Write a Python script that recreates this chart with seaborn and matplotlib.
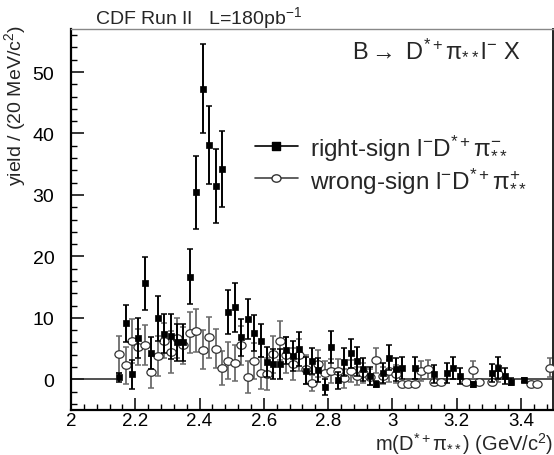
import numpy as np
import pandas as pd
import matplotlib
matplotlib.use("Agg")
import matplotlib.pyplot as plt
import seaborn as sns
from matplotlib.path import Path
from matplotlib.lines import Line2D

# Right-sign l- D*+ pi-_** candidates: bin centre (GeV/c^2), yield, uncertainty
rs_mass = [2.15, 2.17, 2.19, 2.21, 2.23, 2.25, 2.27, 2.29, 2.31, 2.33, 2.35, 2.37,
           2.39, 2.41, 2.43, 2.45, 2.47, 2.49, 2.51, 2.53, 2.55, 2.57, 2.59, 2.61,
           2.63, 2.65, 2.67, 2.69, 2.71, 2.73, 2.75, 2.77, 2.79, 2.81, 2.83, 2.85,
           2.87, 2.89, 2.91, 2.93, 2.95, 2.97, 2.99, 3.01, 3.03, 3.07, 3.13, 3.17,
           3.19, 3.21, 3.25, 3.31, 3.33, 3.35, 3.37, 3.41]
rs_yield = [0.3, 9.1, 0.8, 6.7, 15.6, 4.3, 9.9, 7.4, 7.0, 6.0, 6.0, 16.7,
            30.4, 47.3, 38.1, 31.4, 34.2, 10.9, 11.7, 6.8, 9.8, 7.5, 6.3, 2.8,
            2.5, 2.5, 4.7, 3.8, 4.9, 1.35, 3.0, 1.5, -1.2, 5.2, -0.15, 2.8,
            4.2, 2.9, 1.6, 0.55, -0.75, 1.0, 3.5, 1.6, 1.8, 1.8, 0.9, 1.0,
            1.9, 0.6, -0.8, 1.0, 1.9, 0.5, -0.4, -0.1]
rs_err = [0.8, 3.0, 2.4, 3.2, 4.3, 2.6, 3.7, 3.2, 3.7, 3.0, 3.0, 4.5,
          6.0, 7.2, 6.4, 6.0, 6.2, 3.6, 4.0, 3.0, 3.2, 2.9, 2.7, 2.5,
          2.5, 2.4, 2.2, 2.4, 2.8, 2.2, 2.1, 2.0, 1.3, 2.6, 1.4, 2.3,
          2.3, 2.3, 1.8, 1.5, 0.5, 1.6, 2.0, 1.8, 1.8, 1.8, 1.5, 1.6,
          1.8, 1.3, 0.4, 1.5, 1.8, 1.3, 0.6, 0.3]

# Wrong-sign l- D*+ pi+_** candidates
ws_mass = [2.15, 2.17, 2.19, 2.21, 2.23, 2.25, 2.27, 2.29, 2.31, 2.33, 2.35, 2.37,
           2.39, 2.41, 2.43, 2.45, 2.47, 2.49, 2.51, 2.53, 2.55, 2.57, 2.59, 2.61,
           2.63, 2.65, 2.67, 2.69, 2.71, 2.73, 2.75, 2.77, 2.79, 2.81, 2.83, 2.85,
           2.87, 2.89, 2.91, 2.93, 2.95, 2.97, 2.99, 3.01, 3.03, 3.05, 3.07, 3.09,
           3.11, 3.13, 3.15, 3.23, 3.25, 3.27, 3.31, 3.33, 3.43, 3.45, 3.49]
ws_yield = [4.1, 2.3, 6.2, 5.2, 5.6, 1.25, 3.8, 6.3, 4.5, 6.7, 5.5, 7.6,
            7.9, 4.8, 6.8, 5.0, 1.8, 3.0, 2.7, 5.5, 0.4, 3.0, 1.0, 0.8,
            4.1, 6.3, 4.0, 2.5, 4.0, 1.6, -0.65, 2.5, 1.0, 1.35, 1.35, 0.15,
            1.4, 0.55, 1.0, 0.3, 3.1, 0.6, 1.4, 0.9, -0.8, -0.8, -0.8, 1.3,
            1.6, -0.5, -0.5, -0.5, 1.5, -0.5, -0.5, 0.9, -0.8, -0.8, 1.9]
ws_err = [3.0, 3.0, 3.6, 2.9, 3.3, 2.6, 3.2, 2.8, 3.4, 3.3, 3.0, 3.4,
          3.5, 3.2, 3.4, 3.1, 2.8, 3.0, 2.9, 3.2, 2.6, 2.9, 2.6, 2.6,
          3.0, 3.2, 2.9, 2.6, 2.6, 2.3, 1.3, 2.2, 2.0, 2.0, 2.0, 1.6,
          1.8, 1.5, 1.6, 1.3, 2.0, 1.4, 1.8, 1.5, 0.3, 0.3, 0.3, 1.6,
          1.6, 0.3, 0.3, 0.3, 1.5, 0.3, 0.3, 1.4, 0.3, 0.3, 1.5]

# Stretches where the histograms sit at zero
zero_spans = [(2.00, 2.14), (3.04, 3.50)]

rs = pd.DataFrame({"mass": rs_mass, "yield": rs_yield, "err": rs_err})
ws = pd.DataFrame({"mass": ws_mass, "yield": ws_yield, "err": ws_err})

sns.set_theme(style="ticks")
plt.rcParams["font.family"] = ["Liberation Sans", "DejaVu Sans"]
plt.rcParams["mathtext.fontset"] = "custom"
plt.rcParams["mathtext.rm"] = "Liberation Sans"
plt.rcParams["mathtext.it"] = "Liberation Sans:italic"
plt.rcParams["mathtext.bf"] = "Liberation Sans:bold"
plt.rcParams["mathtext.default"] = "regular"

# Slightly flattened markers
circ = Path.unit_circle()
ellipse = Path(circ.vertices * np.array([1.0, 0.82]), circ.codes)
sq = Path([(-1, -0.85), (1, -0.85), (1, 0.85), (-1, 0.85), (-1, -0.85)],
          [Path.MOVETO, Path.LINETO, Path.LINETO, Path.LINETO, Path.CLOSEPOLY])

W, H = 554, 456
fig = plt.figure(figsize=(W / 100, H / 100), dpi=100)
ax = fig.add_axes([71 / W, 1 - 411 / H, (553 - 71) / W, (411 - 30) / H])

for x0, x1 in zero_spans:
    ax.plot([x0, x1], [0, 0], color="#222222", lw=1.1, zorder=1)

ws_col = "#6a6a6a"
ax.errorbar(ws["mass"], ws["yield"], yerr=ws["err"], fmt="none",
            ecolor=ws_col, elinewidth=1.3, capsize=2.3, capthick=1.1, zorder=2)
sns.scatterplot(data=ws, x="mass", y="yield", marker=ellipse, s=44,
                facecolor="white", edgecolor="#333333", linewidth=0.9,
                ax=ax, zorder=3)

ax.errorbar(rs["mass"], rs["yield"], yerr=rs["err"], fmt="none",
            ecolor="black", elinewidth=1.4, capsize=2.3, capthick=1.1, zorder=4)
sns.scatterplot(data=rs, x="mass", y="yield", marker=sq, s=24,
                color="black", edgecolor="black", linewidth=0.5,
                ax=ax, zorder=5)

ax.set_xlim(2.0, 3.5)
ax.set_ylim(-5, 57)
ax.set_xticks([2.0, 2.2, 2.4, 2.6, 2.8, 3.0, 3.2, 3.4])
ax.set_xticklabels(["2", "2.2", "2.4", "2.6", "2.8", "3", "3.2", "3.4"])
ax.set_xticks(np.arange(2.0, 3.5, 0.04), minor=True)
ax.set_yticks([0, 10, 20, 30, 40, 50])
ax.set_yticks(np.arange(-4, 57, 2), minor=True)
ax.tick_params(which="both", direction="in", top=False, right=False,
               colors="black", labelsize=14)
ax.tick_params(axis="x", which="major", length=9, width=1.1, pad=1.5,
               labelsize=13.5)
ax.tick_params(axis="y", which="major", length=9, width=1.1, pad=12)
ax.tick_params(which="minor", length=4.5, width=1.0)

for side in ["left", "bottom"]:
    ax.spines[side].set_linewidth(1.6)
    ax.spines[side].set_color("black")
ax.spines["top"].set_linewidth(1.0)
ax.spines["top"].set_color("#888888")
ax.spines["top"].set_visible(True)
ax.spines["right"].set_linewidth(1.4)
ax.spines["right"].set_color("#222222")
ax.spines["right"].set_visible(True)

ax.set_xlabel(r"m(D$^{*+}\pi_{**}$) (GeV/c$^{2}$)", fontsize=14.5, loc="right")
ax.xaxis.set_label_coords(1.0, -0.105)
ax.xaxis.label.set_va("baseline")
ax.set_ylabel(r"yield / (20 MeV/c$^{2}$)", fontsize=14, loc="top")
ax.yaxis.set_label_coords(-0.09, 1.012)

fig.text(95 / W, 1 - 18 / H, r"CDF Run II   L=180pb$^{-1}$", fontsize=14,
         va="center", ha="left")
fig.text(352 / W, 1 - 50 / H, r"B$\rightarrow$ D$^{*+}\pi_{**}$l$^{-}$ X",
         fontsize=17, va="center", ha="left")

handles = [
    Line2D([], [], color="black", lw=1.2, marker=sq, markersize=6,
           markerfacecolor="black", markeredgecolor="black"),
    Line2D([], [], color="#444444", lw=1.2, marker=ellipse, markersize=6.5,
           markerfacecolor="white", markeredgecolor="#333333"),
]
labels = [r"right-sign l$^{-}$D$^{*+}\pi^{-}_{**}$",
          r"wrong-sign l$^{-}$D$^{*+}\pi^{+}_{**}$"]
ax.legend(handles, labels, loc="center left",
          bbox_to_anchor=(255 / W, 1 - 164 / H), bbox_transform=fig.transFigure,
          frameon=False, fontsize=17.5, handlelength=1.75, handletextpad=0.5,
          labelspacing=0.15, borderpad=0, borderaxespad=0)

fig.savefig("out.png", dpi=100)
